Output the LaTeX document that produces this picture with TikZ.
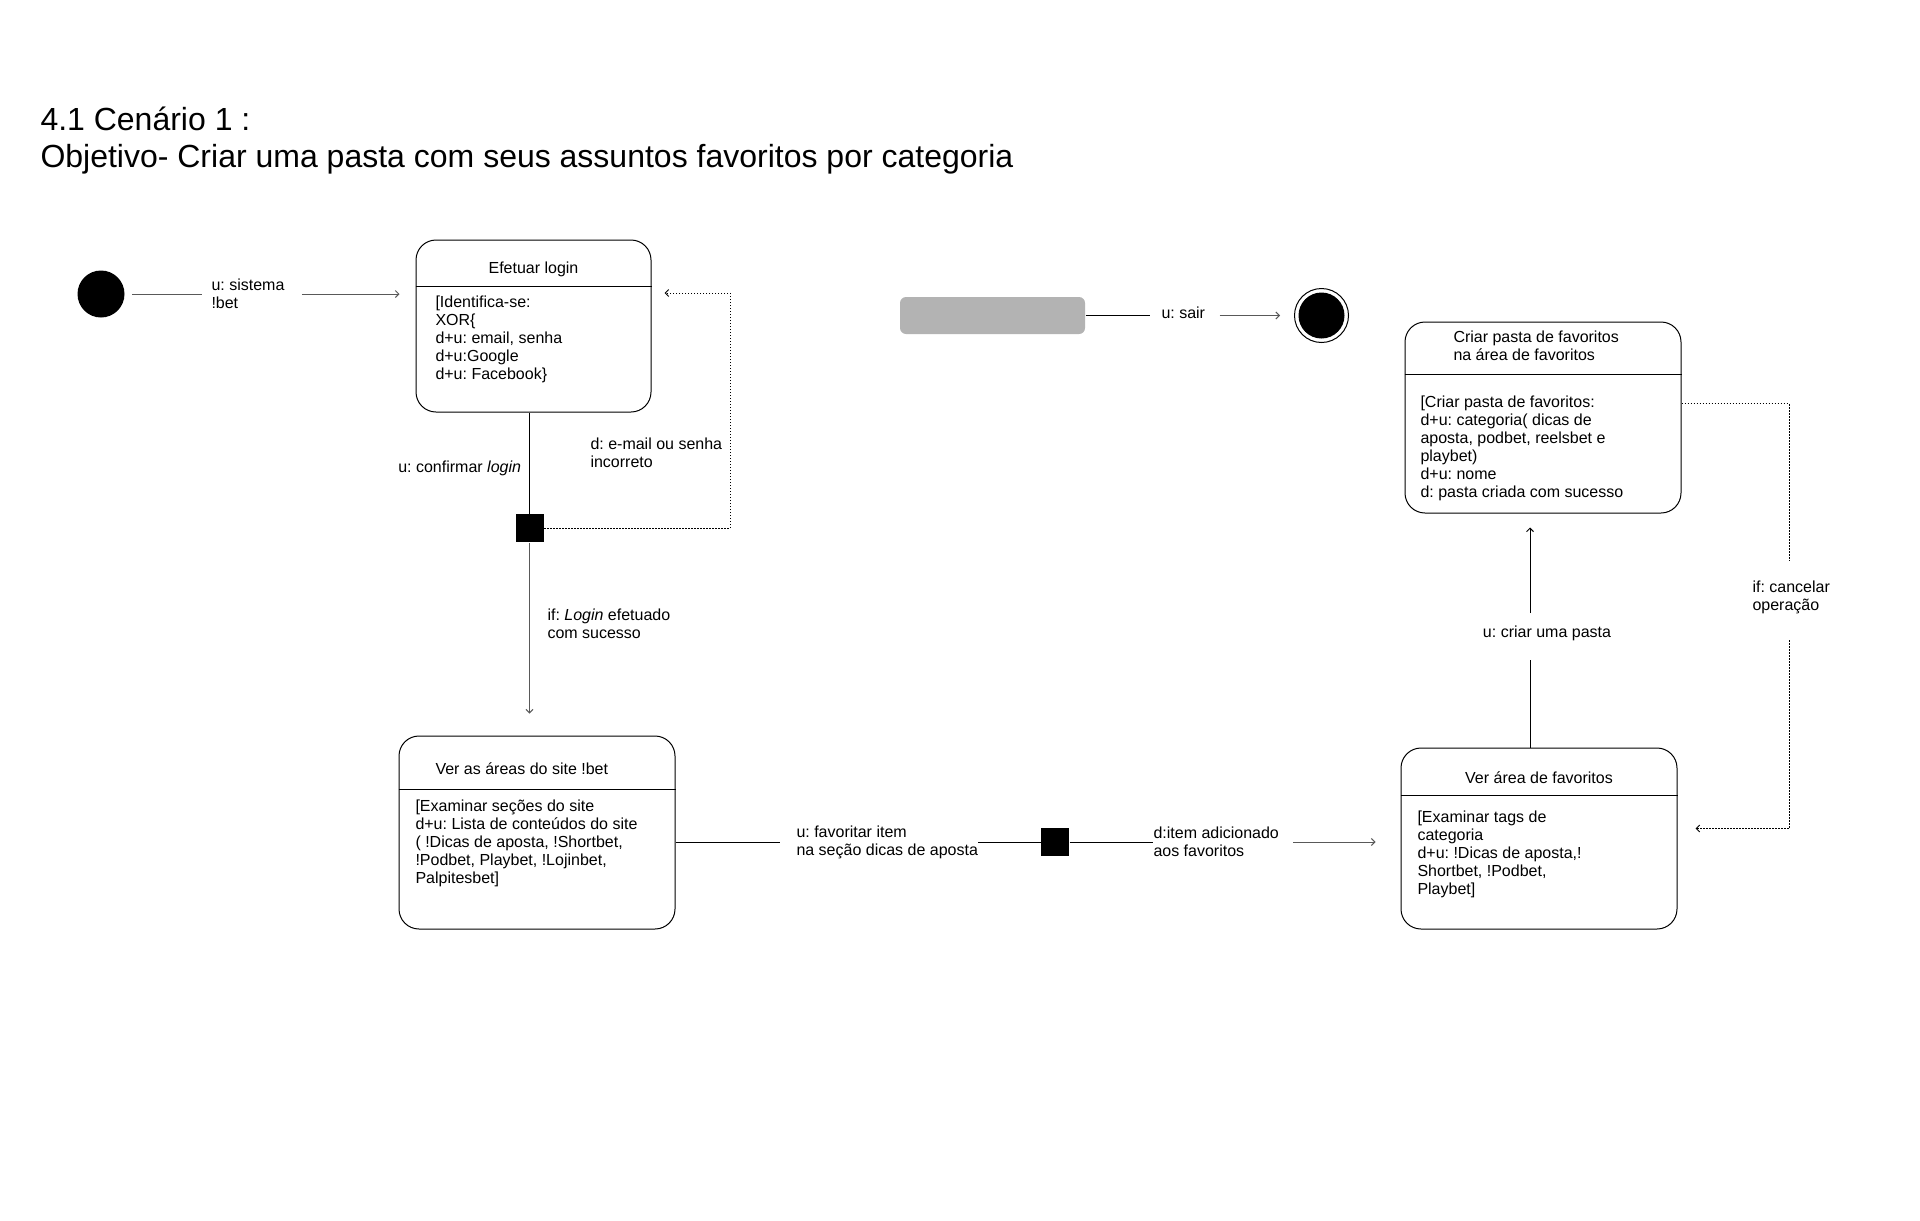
\documentclass[tikz,border=0pt]{standalone}
\usepackage{fontspec}
\setmainfont{Liberation Sans}
\usetikzlibrary{arrows.meta,positioning,calc}
\frenchspacing

\newcommand{\txtfont}{\fontsize{16}{18}\selectfont}
\newcommand{\headfont}{\fontsize{32}{37}\selectfont}

\begin{document}
\begin{tikzpicture}[x=1pt, y=-1pt, line width=1pt,
      elem/.style={rectangle, draw, rounded corners=20pt},
      dot/.style={circle, fill=black, inner sep=0},
      bar/.style={rectangle, fill=black, minimum size=28pt, inner sep=0},
      lbl/.style={align=left, inner sep=0, font=\txtfont},
      txt/.style={lbl, anchor=north west},
      flow/.style={draw=black!65, -{Straight Barb[length=3.5pt,width=7pt]}},
      retry/.style={dash pattern=on 1.5pt off 1.5pt},
      retryarrow/.style={retry, -{Straight Barb[length=3.5pt,width=7pt]}}
    ]
      \useasboundingbox (0,0) rectangle (1920,1221);

      \node[txt, font=\headfont] (title) at (40,106)
        {4.1 Cenário 1 :\\Objetivo- Criar uma pasta com seus assuntos favoritos por categoria};

      % states
      \node[dot, minimum size=47pt] (init) at (101,294) {};

      \node[elem, minimum width=235pt, minimum height=172pt]
        (login) at (533.5,326) {};
      \draw ([yshift=-47pt]login.north west) -- ([yshift=-47pt]login.north east);
      \node[lbl] (login_title) at (533.5,269) {Efetuar login};
      \node[txt] (login_body) at (435,295.5)
        {[Identifica-se:\\XOR\{\\d+u: email, senha\\d+u:Google\\d+u: Facebook\}};

      \node[bar] (choice_login) at (529.5,528) {};

      \node[elem, minimum width=276pt, minimum height=193pt]
        (areas) at (537,832.5) {};
      \draw ([yshift=-54pt]areas.north west) -- ([yshift=-54pt]areas.north east);
      \node[lbl, anchor=west] (areas_title) at (435,769) {Ver as áreas do site !bet};
      \node[txt] (areas_body) at (415,799)
        {[Examinar seções do site\\d+u: Lista de conteúdos do site\\( !Dicas de aposta, !Shortbet,\\!Podbet, Playbet, !Lojinbet,\\Palpitesbet]};

      \node[bar] (choice_fav) at (1055,842) {};

      \node[elem, minimum width=276pt, minimum height=181pt]
        (favs) at (1539,838.5) {};
      \draw ([yshift=-48pt]favs.north west) -- ([yshift=-48pt]favs.north east);
      \node[lbl] (favs_title) at (1539,778) {Ver área de favoritos};
      \node[txt] (favs_body) at (1417,810.5)
        {[Examinar tags de\\categoria\\d+u: !Dicas de aposta,!\\Shortbet, !Podbet,\\Playbet]};

      \node[elem, minimum width=276pt, minimum height=191pt]
        (folder) at (1543,417.5) {};
      \draw ([yshift=-53pt]folder.north west) -- ([yshift=-53pt]folder.north east);
      \node[txt] (folder_title) at (1453,330)
        {Criar pasta de favoritos\\na área de favoritos};
      \node[txt] (folder_body) at (1420,395)
        {[Criar pasta de favoritos:\\d+u: categoria( dicas de\\aposta, podbet, reelsbet e\\playbet)\\d+u: nome\\d: pasta criada com sucesso};

      \node[rectangle, fill={rgb,255:red,179;green,179;blue,179}, rounded corners=6pt,
        minimum width=185pt, minimum height=37pt] (anystate) at (992.5,315.5) {};

      \node[circle, draw, minimum size=54pt, inner sep=0] (final) at (1321.5,315.5) {};
      \node[dot, minimum size=46pt] (final_in) at (final) {};

      % labels
      \node[lbl, anchor=west] (l_sistema) at (211,293.5) {u: sistema\\!bet};
      \node[txt] (l_senha) at (590,437.5) {d: e-mail ou senha\\incorreto};
      \node[txt] (l_sucesso) at (547,608) {if: \textit{Login} efetuado\\com sucesso};
      \node[lbl, anchor=west] (l_favoritar) at (796,842)
        {u: favoritar item\\na seção dicas de aposta};
      \node[lbl, anchor=west] (l_adicionado) at (1153,842)
        {d:item adicionado\\aos favoritos};
      \node[lbl] (l_pasta) at (1547,633) {u: criar uma pasta};
      \node[txt] (l_cancelar) at (1752,580.5) {if: cancelar\\operação};
      \node[lbl, anchor=west] (l_sair) at (1161,313) {u: sair};

      \coordinate (pasta_low) at ([xshift=-9pt]favs.north |- 0,660);
      \coordinate (pasta_high) at ([xshift=-9pt]favs.north |- 0,613);
      \coordinate (cancel_top) at (1789,561);
      \coordinate (cancel_low) at (1789,640);

      % connectors
      \draw[draw=black!65, shorten <=7pt, shorten >=9pt] (init) -- (l_sistema.west |- init);
      \draw[flow, shorten <=17pt, shorten >=16pt] (l_sistema.east |- init) -- (login.west |- init);

      \draw (choice_login |- login.south) -- node[lbl, left=8pt, pos=0.55]
        (l_confirmar) {u: confirmar \textit{login}} (choice_login);
      \draw[retryarrow, shorten >=13pt] (choice_login.east) -- ++(186,0)
        |- ([yshift=33pt]login.east);
      \draw[flow, shorten >=22pt] (choice_login) -- (choice_login |- areas.north);

      \draw[shorten >=16pt] (areas.east |- choice_fav) -- (l_favoritar.west |- choice_fav);
      \draw (l_favoritar.east |- choice_fav) -- (choice_fav);
      \draw (choice_fav) -- (l_adicionado.west |- choice_fav);
      \draw[flow, shorten <=14pt, shorten >=25pt] (l_adicionado.east |- choice_fav)
        -- (favs.west |- choice_fav);

      \draw (pasta_low |- favs.north) -- (pasta_low);
      \draw[-{Straight Barb[length=3.5pt,width=7pt]}, shorten >=14pt] (pasta_high)
        -- (pasta_high |- folder.south);

      \draw[retry] ([yshift=14pt]folder.east) -| (cancel_top);
      \draw[retryarrow, shorten >=18pt] (cancel_low) |- ([yshift=10pt]favs.east);

      \draw[shorten >=11pt] (anystate) -- (l_sair.west |- anystate);
      \draw[flow, shorten <=14pt, shorten >=14pt] (l_sair.east |- anystate) -- (final);
    \end{tikzpicture}
\end{document}
